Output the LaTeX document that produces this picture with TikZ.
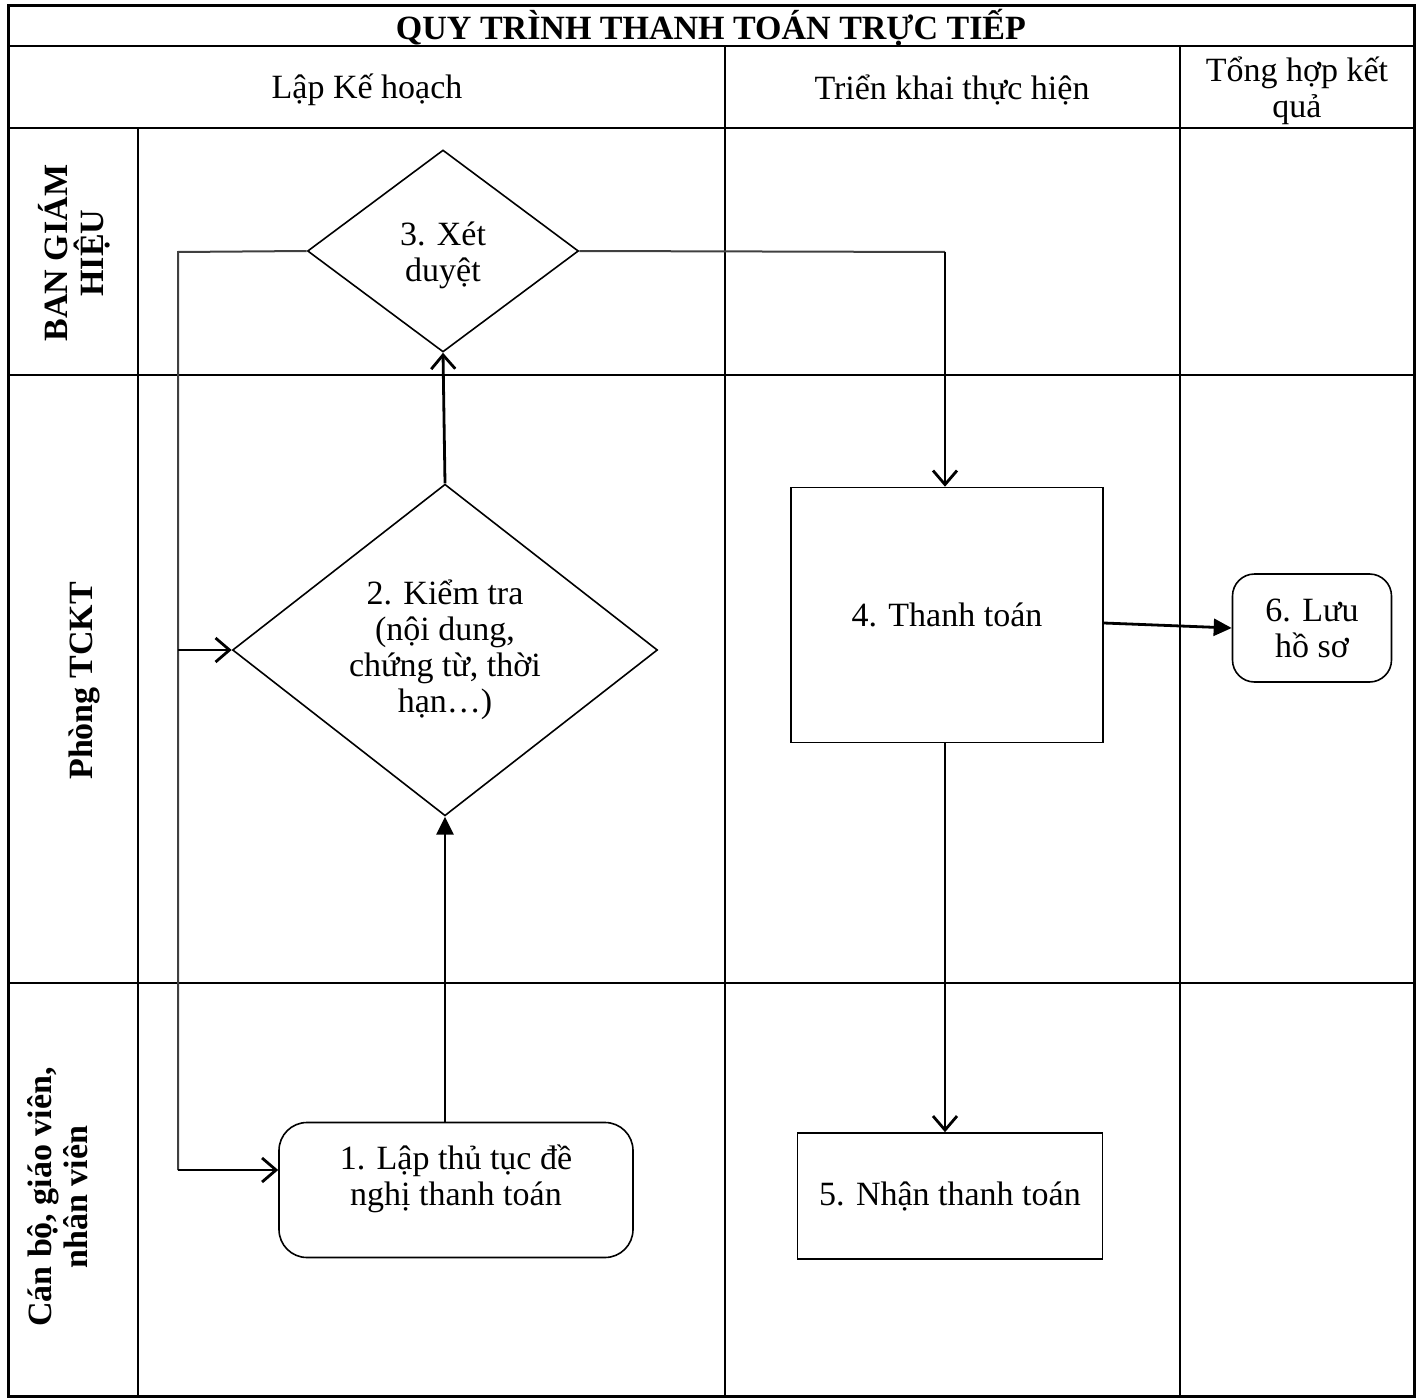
\documentclass[tikz,border=0pt]{standalone}
\usepackage{fontspec}
\setmainfont{Liberation Serif}
\usetikzlibrary{arrows.meta,shapes.geometric}
\begin{document}
\begin{tikzpicture}[x=1pt,y=-1pt,
  every node/.style={font=\fontsize{34}{36}\selectfont, inner sep=0pt, align=center},
  gridline/.style={line width=2.8pt},
  boxline/.style={draw, line width=1.6pt},
  roundbox/.style={boxline, rounded corners=28pt},
  decision/.style={boxline, diamond},
  lanelabel/.style={rotate=90, font=\fontsize{34}{36}\selectfont\bfseries},
  openarrow/.style={line width=2.8pt, -{Straight Barb[length=14pt,width=24pt,line width=2.8pt]}},
  fillarrow/.style={line width=2.8pt, -{Triangle[length=18pt,width=17pt]}},
  loopline/.style={line width=2pt, draw=black!75}
]
\useasboundingbox (0,0) rectangle (1422,1399);
% frame and grid
\draw[line width=3pt] (8,6) rectangle (1414,1396);
\draw[gridline] (8,46) -- (1414,46);
\draw[gridline] (8,128) -- (1414,128);
\draw[gridline] (8,375) -- (1414,375);
\draw[gridline] (8,983) -- (1414,983);
\draw[gridline] (138,128) -- (138,1396);
\draw[gridline] (725,46) -- (725,1396);
\draw[gridline] (1180,46) -- (1180,1396);
% headers
\node[font=\fontsize{34}{36}\selectfont\bfseries] (title) at (711,28) {QUY TRÌNH THANH TOÁN TRỰC TIẾP};
\node (h1) at (367,90) {Lập Kế hoạch};
\node (h2) at (952,90) {Triển khai thực hiện};
\node (h3) at (1297,91) {Tổng hợp kết\\quả};
% lane labels
\node[lanelabel] (l1) at (74,253) {BAN GIÁM\\HIỆU};
\node[lanelabel] (l2) at (84,681) {Phòng TCKT};
\node[lanelabel] (l3) at (58,1197) {Cán bộ, giáo viên,\\nhân viên};
% shapes
\node[decision, minimum width=271pt, minimum height=202pt] (d3) at (443,251) {};
\node (d3t) at (443,255) {3. Xét\\duyệt};
\node[decision, minimum width=425pt, minimum height=326pt] (d2) at (445,650) {2. Kiểm tra\\(nội dung,\\chứng từ, thời\\hạn…)};
\node[roundbox, minimum width=354pt, minimum height=135pt] (n1) at (456,1190) {};
\node (n1t) at (456,1179) {1. Lập thủ tục đề\\nghị thanh toán};
\node[boxline, minimum width=312pt, minimum height=255pt] (n4) at (947,615) {4. Thanh toán};
\node[boxline, minimum width=305pt, minimum height=126pt] (n5) at (950,1196) {5. Nhận thanh toán};
\node[roundbox, minimum width=159pt, minimum height=108pt, rounded corners=22pt] (n6) at (1312,628) {6. Lưu\\hồ sơ};
% loop line
\coordinate (lt) at (178,252);
\coordinate (lm) at (178,650);
\coordinate (lb) at (178,1170);
\draw[loopline] (d3.west) -- (lt) -- (lb);
\draw[openarrow] (lm) -- (d2.west);
\draw[openarrow] (lb) -- (lb -| n1.west);
% main flow
\draw[fillarrow] (d2.south |- n1.north) -- (d2.south);
\draw[openarrow] (d2.north) -- (d3.south);
\coordinate (rt) at (945,252);
\draw[loopline] (d3.east) -- (rt);
\draw[openarrow] (rt) -- (rt |- n4.north);
\draw[openarrow] (rt |- n4.south) -- (rt |- n5.north);
\draw[fillarrow] ([yshift=-8pt]n4.east) -- (n6.west);
\end{tikzpicture}
\end{document}
